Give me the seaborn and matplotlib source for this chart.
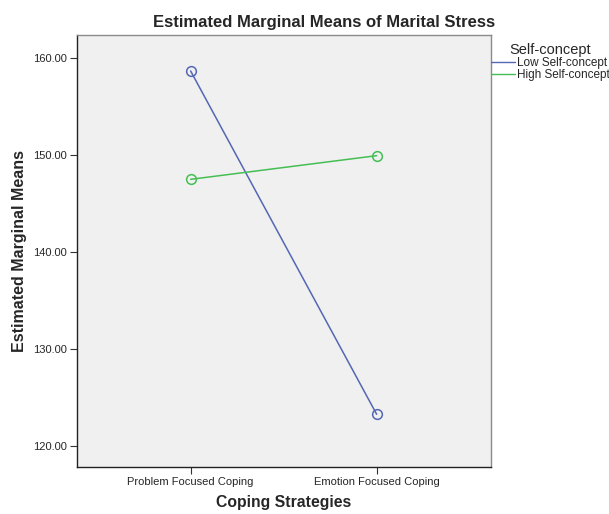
from matplotlib import pyplot as plt
from matplotlib.lines import Line2D
import seaborn as sns
import pandas as pd

# данные
strategies = ['Problem Focused Coping', 'Emotion Focused Coping']
groups = ['Low Self-concept', 'High Self-concept']
low_means = [158.63, 123.24]
high_means = [147.46, 149.90]
colors = ['#5467b5', '#45be54']

df = pd.DataFrame({
    'strategy': strategies * 2,
    'group': [groups[0]] * 2 + [groups[1]] * 2,
    'mean': low_means + high_means,
})

sns.set_style('white')
plt.rcParams['font.family'] = ['Liberation Sans', 'DejaVu Sans']

fig = plt.figure(figsize=(6.09, 5.14), dpi=100)
ax = fig.add_axes([0.1264, 0.0914, 0.6793, 0.8405])
ax.set_facecolor('#f0f0f0')

sns.lineplot(data=df, x='strategy', y='mean', hue='group', hue_order=groups,
             palette=colors, marker='o', markersize=7, markerfacecolor='none',
             markeredgewidth=1.1, linewidth=1.1, legend=False, ax=ax)
# кружки того же цвета, что и линия
for ln in ax.lines:
    ln.set_markeredgecolor(ln.get_color())

ax.set_xlim(-0.611, 1.613)
ax.set_ylim(117.8, 162.34)
ax.set_yticks([120, 130, 140, 150, 160])
ax.set_yticklabels([f'{v:.2f}' for v in [120, 130, 140, 150, 160]])
ax.tick_params(axis='both', direction='out', length=5, width=0.8, labelsize=8,
               color='#333333', pad=2, left=True, bottom=True)

for s in ['left', 'bottom']:
    ax.spines[s].set_color('#222222')
    ax.spines[s].set_linewidth(1.0)
for s in ['top', 'right']:
    ax.spines[s].set_color('#8a8a8a')
    ax.spines[s].set_linewidth(1.0)

# заголовок центрирован по всей картинке, а не по осям
fig.text(324 / 609, 1 - 22 / 514, 'Estimated Marginal Means of Marital Stress',
         fontsize=12, fontweight='bold', ha='center', va='center')
ax.set_xlabel('Coping Strategies', fontsize=11.3, fontweight='bold', labelpad=6)
ax.set_ylabel('Estimated Marginal Means', fontsize=11.5, fontweight='bold', labelpad=4.5)

# легенда справа, как в SPSS
handles = [Line2D([], [], color=c, linewidth=1.0) for c in colors]
leg = ax.legend(handles, groups, title='Self-concept', loc='upper left',
                bbox_to_anchor=(1.0, 0.981), frameon=False, fontsize=8.5,
                title_fontsize=10.5, handlelength=2.1, handletextpad=0.1,
                labelspacing=0.0, borderaxespad=0.0, borderpad=0.0,
                alignment='center')

plt.savefig('out.png', dpi=100)
